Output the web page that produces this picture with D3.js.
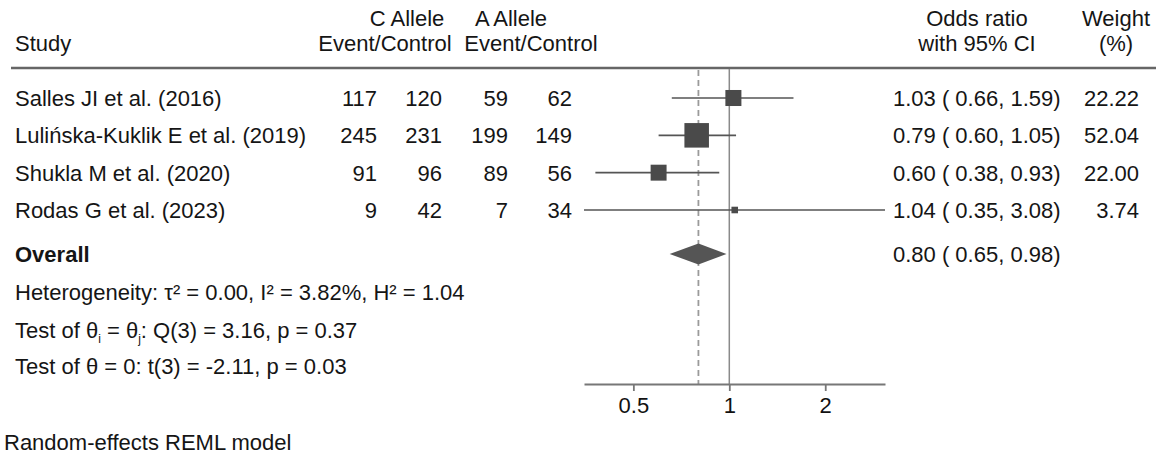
<!DOCTYPE html>
<html lang="en">
<head>
<meta charset="UTF-8">
<title>Forest plot</title>
<script src="https://d3js.org/d3.v7.min.js"></script>
<style>
  body { margin: 0; background: #fff; }
  svg text, svg tspan { font-family: Helvetica, Arial, "Liberation Sans", sans-serif; font-size: 22px; fill: #151515; }
</style>
</head>
<body>
<div id="chart"></div>
<script>
// study rows
var studies = ["Salles JI et al. (2016)", "Lulińska-Kuklik E et al. (2019)", "Shukla M et al. (2020)", "Rodas G et al. (2023)"]
var cEvent = [117, 245, 91, 9]
var cControl = [120, 231, 96, 42]
var aEvent = [59, 199, 89, 7]
var aControl = [62, 149, 56, 34]
var oddsRatio = [1.03, 0.79, 0.60, 1.04]
var ciLow = [0.66, 0.60, 0.38, 0.35]
var ciHigh = [1.59, 1.05, 0.93, 3.08]
var weight = [22.22, 52.04, 22.00, 3.74]

// pooled estimate
var overall = [0.80, 0.65, 0.98]
var tickValues = [0.5, 1, 2]

var width = 1156, height = 456

var svg = d3.select("#chart").append("svg")
  .attr("width", width)
  .attr("height", height)

var x = d3.scaleLog()
  .domain([d3.min(ciLow), d3.max(ciHigh)])
  .range([584, 885])

var rowY = d3.scalePoint()
  .domain(d3.range(studies.length))
  .range([98, 210])

var lineTop = 68, axisY = 384
var f2 = d3.format(".2f")

// headers
function txt(xp, yp, s, anchor) {
  return svg.append("text").attr("x", xp).attr("y", yp)
    .attr("text-anchor", anchor || "start").text(s)
}
var h1 = 26, h2 = 51
txt(407, h1, "C Allele", "middle")
txt(385, h2, "Event/Control", "middle")
txt(511, h1, "A Allele", "middle")
txt(531, h2, "Event/Control", "middle")
txt(15, h2, "Study")
txt(977, h1, "Odds ratio", "middle")
txt(977, h2, "with 95% CI", "middle")
txt(1116, h1, "Weight", "middle")
txt(1116, h2, "(%)", "middle")

svg.append("line")
  .attr("x1", 11).attr("x2", width)
  .attr("y1", lineTop).attr("y2", lineTop)
  .attr("stroke", "#666").attr("stroke-width", 2.5)

// reference lines
svg.append("line")
  .attr("x1", x(1)).attr("x2", x(1))
  .attr("y1", lineTop + 1).attr("y2", axisY)
  .attr("stroke", "#8a8a8a").attr("stroke-width", 1.5)

svg.append("line")
  .attr("x1", x(overall[0])).attr("x2", x(overall[0]))
  .attr("y1", lineTop + 2).attr("y2", axisY)
  .attr("stroke", "#9a9a9a").attr("stroke-width", 1.8)
  .attr("stroke-dasharray", "6,4")

// study rows
var cols = [377, 442, 508, 572]
var rows = svg.selectAll("g.row")
  .data(studies)
  .enter().append("g")
  .attr("class", "row")
  .attr("transform", function(d, i) { return "translate(0," + rowY(i) + ")" })

rows.append("text").attr("x", 15).attr("y", 8).text(function(d) { return d })

var countCols = [cEvent, cControl, aEvent, aControl]
countCols.forEach(function(arr, c) {
  rows.append("text")
    .attr("x", cols[c]).attr("y", 8)
    .attr("text-anchor", "end")
    .text(function(d, i) { return arr[i] })
})

rows.append("line")
  .attr("x1", function(d, i) { return x(ciLow[i]) })
  .attr("x2", function(d, i) { return x(ciHigh[i]) })
  .attr("stroke", "#555").attr("stroke-width", 1.6)

var side = function(w) { return 3.4 * Math.sqrt(w) }
rows.append("rect")
  .attr("x", function(d, i) { return x(oddsRatio[i]) - side(weight[i]) / 2 })
  .attr("y", function(d, i) { return -side(weight[i]) / 2 })
  .attr("width", function(d, i) { return side(weight[i]) })
  .attr("height", function(d, i) { return side(weight[i]) })
  .attr("fill", "#4a4a4a")

rows.append("text")
  .attr("x", 893).attr("y", 8)
  .text(function(d, i) { return f2(oddsRatio[i]) + " ( " + f2(ciLow[i]) + ", " + f2(ciHigh[i]) + ")" })

rows.append("text")
  .attr("x", 1139).attr("y", 8)
  .attr("text-anchor", "end")
  .text(function(d, i) { return f2(weight[i]) })

// overall
var oy = 254
svg.append("text").attr("x", 15).attr("y", oy + 8)
  .attr("font-weight", "bold").text("Overall")

svg.append("path")
  .attr("d", "M" + x(overall[1]) + "," + oy +
    "L" + x(overall[0]) + "," + (oy - 10.5) +
    "L" + x(overall[2]) + "," + oy +
    "L" + x(overall[0]) + "," + (oy + 10.5) + "Z")
  .attr("fill", "#555")

txt(893, oy + 8, f2(overall[0]) + " ( " + f2(overall[1]) + ", " + f2(overall[2]) + ")")

// stats
txt(15, 300, "Heterogeneity: τ² = 0.00, I² = 3.82%, H² = 1.04")
var t2 = txt(15, 338, "Test of θ")
t2.append("tspan").style("font-size", "12px").attr("dy", 5).text("i")
t2.append("tspan").attr("dy", -5).text(" = θ")
t2.append("tspan").style("font-size", "12px").attr("dy", 5).text("j")
t2.append("tspan").attr("dy", -5).text(": Q(3) = 3.16, p = 0.37")
txt(15, 374, "Test of θ = 0: t(3) = -2.11, p = 0.03")

txt(4, 450, "Random-effects REML model")

// axis
var axis = svg.append("g")
  .attr("transform", "translate(0," + axisY + ")")
  .call(d3.axisBottom(x).tickValues(tickValues).tickFormat(function(d) { return d }).tickSize(7).tickSizeOuter(0).tickPadding(6))

axis.select(".domain").attr("stroke", "#777").attr("stroke-width", 2.2)
axis.selectAll(".tick line").attr("stroke", "#777").attr("stroke-width", 1.8)
axis.selectAll(".tick text")
  .style("font-family", "Helvetica, Arial, 'Liberation Sans', sans-serif")
  .style("font-size", "22px").style("fill", "#111")
</script>
</body>
</html>
